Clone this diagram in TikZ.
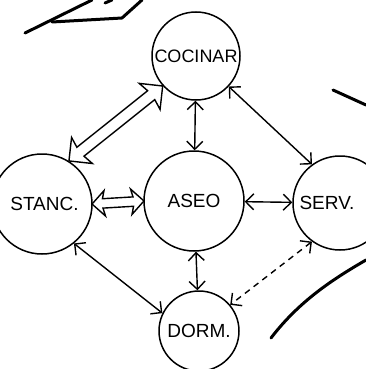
\documentclass[tikz,border=0pt]{standalone}
\usepackage{fontspec}
\setmainfont{Liberation Sans}
\usetikzlibrary{arrows.meta,shapes.arrows}
\begin{document}
\begin{tikzpicture}[x=1pt,y=-1pt,
  place/.style={circle,draw,line width=1.5pt,inner sep=0pt,font=\fontsize{19}{21}\selectfont},
  link/.style={line width=1.4pt,{Straight Barb[length=8pt,width=16pt]}-{Straight Barb[length=8pt,width=16pt]}},
  hollow/.style={double arrow,draw,line width=1.4pt,sloped,inner xsep=0pt,double arrow head indent=2pt},
  stroke/.style={line width=3pt,line cap=round,line join=round}]
\useasboundingbox (0,0) rectangle (366,369);
\node[place,minimum size=88pt,font=\fontsize{18}{20}\selectfont] (cocinar) at (196,56) {COCINAR};
\node[place,minimum size=100pt] (stanc) at (42,204) {\hspace*{5pt}STANC.};
\node[place,minimum size=100pt] (aseo) at (194,201) {ASEO};
\node[place,minimum size=94pt] (serv) at (340,203) {\hspace*{-26pt}SERV.};
\node[place,minimum size=80pt] (dorm) at (199,331) {DORM.};
% connectors
\draw[link] (cocinar) -- (aseo);
\draw[link] (cocinar.-43) -- (serv.126);
\path (cocinar.222) -- (stanc.58)
  node[hollow,midway,minimum height=120pt,inner ysep=5pt,double arrow head extend=11pt] (h1) {};
\path (stanc.east) -- (aseo.west)
  node[hollow,midway,minimum height=52pt,inner ysep=4pt,double arrow head extend=8pt] (h2) {};
\draw[link] (aseo) -- (serv);
\draw[link] (stanc.-51) -- (dorm.154);
\draw[link] (aseo) -- (dorm);
\draw[link,dash pattern=on 6pt off 5pt] (serv.234) -- (dorm.40);
% stray sketch strokes
\draw[stroke] (25,33) -- (92,0);
\draw[stroke] (52,22) -- (122,18) -- (142,0);
\draw[stroke] (105,3) -- (112,0);
\draw[stroke] (333,90) -- (366,105);
\draw[stroke] (271,338) .. controls (300,300) and (335,278) .. (366,260);
\end{tikzpicture}
\end{document}
